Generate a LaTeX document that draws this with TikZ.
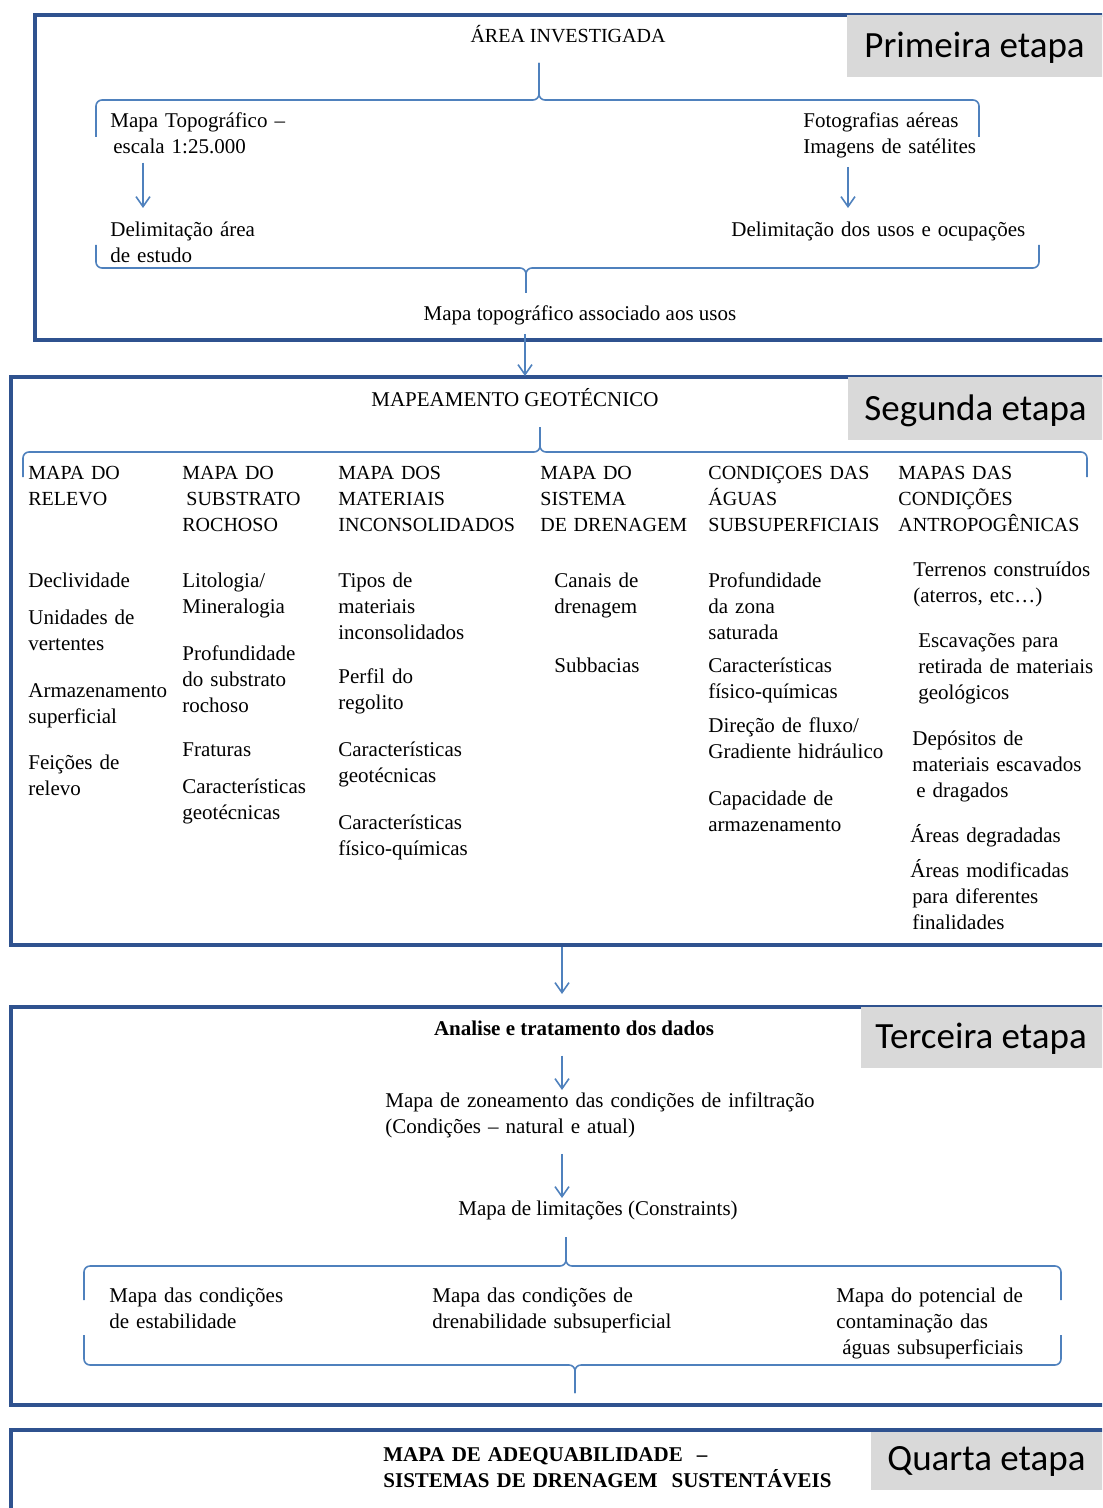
\documentclass[tikz,border=0pt]{standalone}
\usepackage{fontspec}
\setmainfont{Liberation Serif}
\newfontfamily\etapafont{Carlito}
\usetikzlibrary{arrows.meta}

\definecolor{framecol}{RGB}{47,82,143}
\definecolor{bracecol}{RGB}{79,129,189}
\definecolor{etapagray}{RGB}{217,217,217}

\begin{document}
\begin{tikzpicture}[x=0.5pt,y=-0.5pt]

	\tikzstyle frame lines=[draw=framecol, line width=2pt];
	\tikzstyle brace lines=[draw=bracecol, line width=0.8pt, rounded corners=3pt];
	\tikzstyle flow=[draw=bracecol, line width=0.8pt, shorten <=4pt, -{Straight Barb[length=5pt,width=7pt]}];
	\tikzstyle etapa box=[fill=etapagray];
	\tikzstyle etapa=[font=\etapafont\fontsize{18.5}{22}\selectfont, anchor=base west, inner sep=0];
	\tikzstyle txt=[font=\fontsize{10.5}{13}\selectfont, align=left, text width=150pt, anchor=base west, inner sep=0];
	\tikzstyle head=[txt, font=\fontsize{10}{13}\selectfont];
	\tikzstyle bold txt=[txt, font=\bfseries\fontsize{10.5}{13}\selectfont];
	\tikzstyle center txt=[font=\fontsize{10.5}{13}\selectfont, anchor=base, inner sep=0];

	\useasboundingbox (0,0) rectangle (1102,1508);
	\clip (0,0) rectangle (1102,1508);

	% the four stages
	\draw[frame lines] (35,15) rectangle (1120,340);
	\draw[frame lines] (11,377) rectangle (1120,945);
	\draw[frame lines] (11,1007) rectangle (1120,1405);
	\draw[frame lines] (11,1430) rectangle (1120,1540);

	\fill[etapa box] (847,15) rectangle (1110,77);
	\fill[etapa box] (848,377) rectangle (1110,440);
	\fill[etapa box] (861,1007) rectangle (1110,1068);
	\fill[etapa box] (871,1432) rectangle (1110,1490);

	\node[etapa] (primeira) at (864,58) {Primeira etapa};
	\node[etapa] (segunda) at (864,420) {Segunda etapa};
	\node[etapa] (terceira) at (875,1048) {Terceira etapa};
	\node[etapa] (quarta) at (887,1470) {Quarta etapa};

	% primeira etapa
	\node[center txt, font=\fontsize{10}{13}\selectfont] (area) at (568,43) {ÁREA INVESTIGADA};
	\draw[brace lines] (96,137) |- (539,100) -- (539,63);
	\draw[brace lines] (979,137) |- (539,100) -- (539,63);

	\node[txt] (topo) at (110,128) {Mapa Topográfico –\\\hspace*{1.5pt}escala 1:25.000};
	\node[txt] (foto) at (803,128) {Fotografias aéreas\\Imagens de satélites};
	\node[txt] (delimA) at (110,237) {Delimitação área\\de estudo};
	\node[txt] (delimU) at (731,237) {Delimitação dos usos e ocupações};

	\coordinate (topoTip) at (143,208);
	\coordinate (fotoTip) at (848,208);
	\draw[flow] (topo.south -| topoTip) -- (topoTip);
	\draw[flow] (foto.south -| fotoTip) -- (fotoTip);

	\draw[brace lines] (96,245) |- (526,268) -- (526,293);
	\draw[brace lines] (1039,245) |- (526,268) -- (526,293);
	\node[center txt] (mapaTopo) at (580,321) {Mapa topográfico associado aos usos};

	\coordinate (segTip) at (525,376);
	\draw[flow] (mapaTopo.south -| segTip) -- (segTip);

	% segunda etapa
	\node[center txt] (mapeamento) at (515,406) {MAPEAMENTO GEOTÉCNICO};
	\draw[brace lines] (23,477) |- (540,452) -- (540,427);
	\draw[brace lines] (1087,477) |- (540,452) -- (540,427);

	\foreach \x/\name/\label in {28/relevo/{MAPA DO\\RELEVO},
			182/substrato/{MAPA DO\\\hspace*{2pt}SUBSTRATO\\ROCHOSO},
			338/materiais/{MAPA DOS\\MATERIAIS\\INCONSOLIDADOS},
			540/drenagem/{MAPA DO\\SISTEMA\\DE DRENAGEM},
			708/aguas/{CONDIÇOES DAS\\ÁGUAS\\SUBSUPERFICIAIS},
			898/antropo/{MAPAS DAS\\CONDIÇÕES\\ANTROPOGÊNICAS}}
		\node[head] (h\name) at (\x,479) {\label};

	\foreach \y/\label [count=\i] in {587/Declividade, 624/{Unidades de\\vertentes},
			697/{Armazenamento\\superficial}, 769/{Feições de\\relevo}}
		\node[txt] (relevo\i) at (28,\y) {\label};

	\foreach \y/\label [count=\i] in {587/{Litologia/\\Mineralogia}, 660/{Profundidade\\do substrato\\rochoso},
			756/Fraturas, 793/{Características\\geotécnicas}}
		\node[txt] (substrato\i) at (182,\y) {\label};

	\foreach \y/\label [count=\i] in {587/{Tipos de\\materiais\\inconsolidados}, 683/{Perfil do\\regolito},
			756/{Características\\geotécnicas}, 829/{Características\\físico-químicas}}
		\node[txt] (materiais\i) at (338,\y) {\label};

	\foreach \y/\label [count=\i] in {587/{Canais de\\drenagem}, 672/Subbacias}
		\node[txt] (drenagem\i) at (554,\y) {\label};

	\foreach \y/\label [count=\i] in {587/{Profundidade\\da zona\\saturada}, 672/{Características\\físico-químicas},
			732/{Direção de fluxo/\\Gradiente hidráulico}, 805/{Capacidade de\\armazenamento}}
		\node[txt] (aguas\i) at (708,\y) {\label};

	\foreach \x/\y/\label [count=\i] in {913/576/{Terrenos construídos\\(aterros, etc…)},
			918/647/{Escavações para\\retirada de materiais\\geológicos},
			912/745/{Depósitos de\\materiais escavados\\\hspace*{2pt}e dragados},
			910/842/{Áreas degradadas},
			910/877/{Áreas modificadas\\\hspace*{1pt}para diferentes\\\hspace*{1pt}finalidades}}
		\node[txt, text width=95pt] (antropo\i) at (\x,\y) {\label};

	\coordinate (segBottom) at (562,947);
	\coordinate (terTip) at (562,994);
	\draw[flow, shorten <=0pt] (segBottom) -- (terTip);

	% terceira etapa
	\node[center txt, font=\bfseries\fontsize{10.5}{13}\selectfont] (analise) at (574,1035) {Analise e tratamento dos dados};
	\node[txt, text width=240pt] (zoneamento) at (385,1107) {Mapa de zoneamento das condições de infiltração\\(Condições – natural e atual)};
	\node[center txt] (limitacoes) at (598,1215) {Mapa de limitações (Constraints)};

	\coordinate (zonTip) at (562,1090);
	\coordinate (limTip) at (562,1198);
	\draw[flow, shorten <=10pt] (analise.south -| zonTip) -- (zonTip);
	\draw[flow, shorten <=8pt] (zoneamento.south -| limTip) -- (limTip);

	\draw[brace lines] (84,1300) |- (566,1266) -- (566,1237);
	\draw[brace lines] (1061,1300) |- (566,1266) -- (566,1237);

	\node[txt] (estabilidade) at (109,1302) {Mapa das condições\\de estabilidade};
	\node[txt] (drenabilidade) at (432,1302) {Mapa das condições de\\drenabilidade subsuperficial};
	\node[txt, text width=105pt] (contaminacao) at (836,1302) {Mapa do potencial de\\contaminação das\\\hspace*{3pt}águas subsuperficiais};

	\draw[brace lines] (84,1335) |- (575,1365) -- (575,1393);
	\draw[brace lines] (1061,1335) |- (575,1365) -- (575,1393);

	% quarta etapa
	\node[bold txt, text width=240pt] (adequabilidade) at (383,1461) {MAPA DE ADEQUABILIDADE \ –\\SISTEMAS DE DRENAGEM \ SUSTENTÁVEIS};

\end{tikzpicture}
\end{document}
